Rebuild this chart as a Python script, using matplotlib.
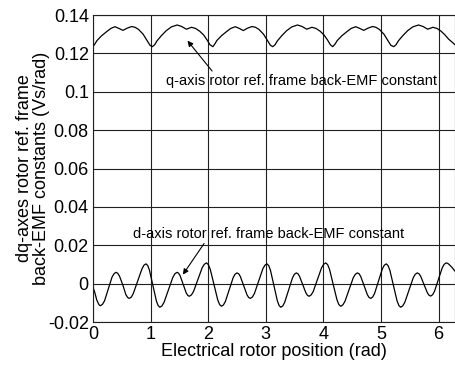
import matplotlib
matplotlib.use("Agg")
import matplotlib.pyplot as plt

plt.rcParams['font.family'] = ['Liberation Sans', 'DejaVu Sans']

# q-axis back-EMF constant (Vs/rad) vs electrical rotor position (rad)
q_pos = [0.00, 0.03, 0.07, 0.15, 0.24, 0.31, 0.38, 0.45, 0.52, 0.59, 0.67, 0.73, 0.79, 0.87, 0.94, 0.99, 1.03,
         1.07, 1.11, 1.18, 1.27, 1.36, 1.46, 1.54, 1.62, 1.71, 1.78, 1.85, 1.92, 1.98, 2.03, 2.08,
         2.11, 2.15, 2.23, 2.32, 2.39, 2.47, 2.54, 2.61, 2.68, 2.76, 2.82, 2.88, 2.96, 3.03, 3.08, 3.12,
         3.16, 3.20, 3.27, 3.36, 3.45, 3.55, 3.63, 3.71, 3.80, 3.87, 3.94, 4.01, 4.07, 4.12, 4.16,
         4.20, 4.24, 4.32, 4.41, 4.48, 4.56, 4.63, 4.70, 4.77, 4.85, 4.91, 4.97, 5.05, 5.12, 5.17, 5.22,
         5.26, 5.30, 5.37, 5.46, 5.55, 5.65, 5.73, 5.81, 5.90, 5.97, 6.04, 6.11, 6.17, 6.22, 6.283]
q_val = [0.1236, 0.1248, 0.1267, 0.1292, 0.1314, 0.1330, 0.1339, 0.1330, 0.1320, 0.1331, 0.1340, 0.1336, 0.1325, 0.1300, 0.1266, 0.1242, 0.1235,
         0.1245, 0.1265, 0.1290, 0.1318, 0.1338, 0.1348, 0.1340, 0.1326, 0.1336, 0.1330, 0.1316, 0.1296, 0.1270, 0.1245, 0.1235,
         0.1247, 0.1267, 0.1292, 0.1314, 0.1330, 0.1339, 0.1330, 0.1319, 0.1331, 0.1340, 0.1336, 0.1325, 0.1300, 0.1266, 0.1242, 0.1235,
         0.1245, 0.1265, 0.1290, 0.1318, 0.1338, 0.1348, 0.1340, 0.1326, 0.1336, 0.1330, 0.1316, 0.1296, 0.1270, 0.1245, 0.1235,
         0.1248, 0.1267, 0.1292, 0.1314, 0.1330, 0.1339, 0.1330, 0.1320, 0.1331, 0.1340, 0.1336, 0.1325, 0.1300, 0.1266, 0.1242, 0.1235,
         0.1245, 0.1265, 0.1290, 0.1318, 0.1338, 0.1348, 0.1340, 0.1326, 0.1336, 0.1330, 0.1316, 0.1296, 0.1275, 0.1262, 0.1245]

# d-axis back-EMF constant (Vs/rad) vs electrical rotor position (rad)
d_pos = [0.00, 0.03, 0.065, 0.10, 0.115, 0.13, 0.164, 0.20, 0.265, 0.33, 0.366, 0.40,
         0.429, 0.46, 0.52, 0.57, 0.601, 0.63, 0.666, 0.70, 0.775, 0.85, 0.884, 0.92,
         0.95, 0.98, 1.04, 1.10, 1.13, 1.16, 1.1975, 1.235, 1.31, 1.385, 1.4225, 1.46,
         1.486, 1.5125, 1.565, 1.6175, 1.644, 1.67, 1.7075, 1.745, 1.82, 1.895, 1.9325, 1.97,
         2.0025, 2.035, 2.10, 2.165, 2.1975, 2.23, 2.264, 2.2975, 2.365, 2.4325, 2.466, 2.50,
         2.529, 2.5575, 2.615, 2.6725, 2.701, 2.73, 2.766, 2.8025, 2.875, 2.9475, 2.984, 3.02,
         3.05, 3.08, 3.14, 3.20, 3.23, 3.26, 3.294, 3.3275, 3.395, 3.4625, 3.496, 3.53,
         3.5575, 3.585, 3.64, 3.695, 3.7225, 3.75, 3.786, 3.8225, 3.895, 3.9675, 4.004, 4.04,
         4.0725, 4.105, 4.17, 4.235, 4.2675, 4.30, 4.336, 4.3725, 4.445, 4.5175, 4.554, 4.59,
         4.619, 4.6475, 4.705, 4.7625, 4.791, 4.82, 4.854, 4.8875, 4.955, 5.0225, 5.056, 5.09,
         5.121, 5.1525, 5.215, 5.2775, 5.309, 5.34, 5.376, 5.4125, 5.485, 5.5575, 5.594, 5.63,
         5.659, 5.6875, 5.745, 5.8025, 5.831, 5.86, 5.894, 5.9275, 5.995, 6.0625, 6.096, 6.13,
         6.155, 6.18, 6.23, 6.283]
d_val = [-0.0019, -0.0045, -0.0085, -0.0108, -0.0113, -0.0115, -0.0108, -0.0090, -0.0028, 0.0034, 0.0052, 0.0059,
         0.0054, 0.0039, -0.0009, -0.0057, -0.0072, -0.0077, -0.0070, -0.0051, 0.0013, 0.0077, 0.0096, 0.0103,
         0.0094, 0.0070, -0.0010, -0.0090, -0.0114, -0.0123, -0.0116, -0.0096, -0.0032, 0.0032, 0.0052, 0.0059,
         0.0054, 0.0041, -0.0004, -0.0048, -0.0061, -0.0066, -0.0059, -0.0041, 0.0021, 0.0083, 0.0101, 0.0108,
         0.0099, 0.0075, -0.0005, -0.0085, -0.0109, -0.0118, -0.0111, -0.0093, -0.0031, 0.0031, 0.0049, 0.0056,
         0.0051, 0.0037, -0.0010, -0.0058, -0.0072, -0.0077, -0.0070, -0.0051, 0.0013, 0.0077, 0.0096, 0.0103,
         0.0094, 0.0070, -0.0010, -0.0090, -0.0114, -0.0123, -0.0116, -0.0097, -0.0034, 0.0030, 0.0049, 0.0056,
         0.0051, 0.0038, -0.0005, -0.0048, -0.0061, -0.0066, -0.0059, -0.0041, 0.0021, 0.0083, 0.0101, 0.0108,
         0.0099, 0.0075, -0.0005, -0.0085, -0.0109, -0.0118, -0.0111, -0.0093, -0.0031, 0.0031, 0.0049, 0.0056,
         0.0051, 0.0037, -0.0010, -0.0058, -0.0072, -0.0077, -0.0070, -0.0051, 0.0013, 0.0077, 0.0096, 0.0103,
         0.0094, 0.0070, -0.0010, -0.0090, -0.0114, -0.0123, -0.0116, -0.0097, -0.0034, 0.0030, 0.0049, 0.0056,
         0.0051, 0.0038, -0.0004, -0.0047, -0.0060, -0.0065, -0.0058, -0.0040, 0.0021, 0.0083, 0.0101, 0.0108,
         0.0106, 0.0100, 0.0085, 0.0065]

x_ticks = [0, 1, 2, 3, 4, 5, 6]
x_labels = ['0', '1', '2', '3', '4', '5', '6']
y_ticks = [-0.02, 0, 0.02, 0.04, 0.06, 0.08, 0.1, 0.12, 0.14]
y_labels = ['-0.02', '0', '0.02', '0.04', '0.06', '0.08', '0.1', '0.12', '0.14']

fig = plt.figure(figsize=(4.55, 3.66), dpi=100)
ax = fig.add_axes([0.2044, 0.1202, 0.7956, 0.8388])

ax.plot(q_pos, q_val, color='black', lw=0.9, solid_joinstyle='round')
ax.plot(d_pos, d_val, color='black', lw=0.9, solid_joinstyle='round')

ax.set_xlim(0, 6.2832)
ax.set_ylim(-0.02, 0.14)
ax.set_xticks(x_ticks)
ax.set_xticklabels(x_labels)
ax.set_yticks(y_ticks)
ax.set_yticklabels(y_labels)
ax.tick_params(labelsize=13, length=0, pad=3, colors='black')
ax.grid(True, color='#202020', lw=0.8)
for s in ax.spines.values():
    s.set_color('#202020')
    s.set_linewidth(0.8)

ax.set_xlabel('Electrical rotor position (rad)', fontsize=13, labelpad=0)
ax.set_ylabel('dq-axes rotor ref. frame\nback-EMF constants (Vs/rad)', fontsize=13,
              linespacing=1.0)
ax.yaxis.set_label_coords(-0.119, 0.5)

ax.annotate('q-axis rotor ref. frame back-EMF constant', xy=(1.64, 0.1266), xytext=(1.26, 0.1057),
            fontsize=10.5, va='center', ha='left',
            arrowprops=dict(arrowstyle='-|>', color='black', lw=0.8, mutation_scale=8,
                            shrinkA=0, shrinkB=0, relpos=(0.18, 1.0)))
ax.annotate('d-axis rotor ref. frame back-EMF constant', xy=(1.56, 0.0047), xytext=(0.69, 0.026),
            fontsize=10.5, va='center', ha='left',
            arrowprops=dict(arrowstyle='-|>', color='black', lw=0.8, mutation_scale=8,
                            shrinkA=0, shrinkB=0, relpos=(0.27, 0.0)))

fig.savefig('out.png', dpi=100)
